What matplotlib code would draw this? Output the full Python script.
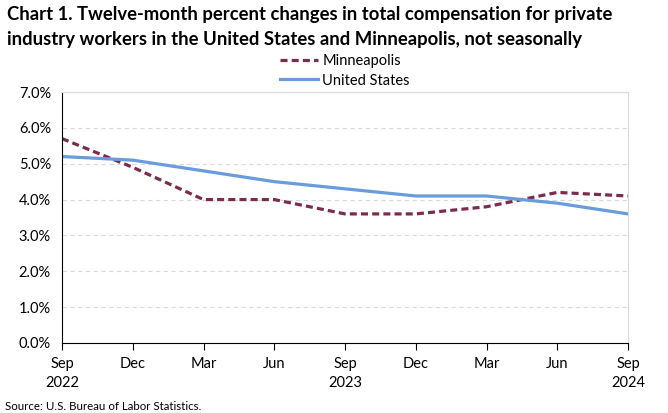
import matplotlib
matplotlib.use("Agg")
import matplotlib.pyplot as plt
from matplotlib.ticker import FuncFormatter, MultipleLocator

plt.rcParams['font.family'] = ['Lato', 'DejaVu Sans']

# Quarterly reference periods, Sep 2022 to Sep 2024
months = ['Sep\n2022', 'Dec', 'Mar', 'Jun', 'Sep\n2023', 'Dec', 'Mar', 'Jun', 'Sep\n2024']
minneapolis = [5.7, 4.9, 4.0, 4.0, 3.6, 3.6, 3.8, 4.2, 4.1]
united_states = [5.2, 5.1, 4.8, 4.5, 4.3, 4.1, 4.1, 3.9, 3.6]

fig = plt.figure(figsize=(6.68, 4.13), dpi=100)
ax = fig.add_axes([62 / 668, 1 - 343 / 413, (628 - 62) / 668, (343 - 92) / 413])

x = list(range(len(months)))
l1, = ax.plot(x, minneapolis, color='#7B2C4C', linewidth=2.3, linestyle=(0, (2.2, 1.3)),
              label='Minneapolis')
l2, = ax.plot(x, united_states, color='#6A9BDC', linewidth=2.3, label='United States')

ax.set_xlim(0, len(months) - 1)
ax.set_ylim(0, 7)
ax.yaxis.set_major_locator(MultipleLocator(1))
ax.yaxis.set_major_formatter(FuncFormatter(lambda v, p: f'{v:.1f}%'))
ax.set_xticks(x)
ax.set_xticklabels(months, linespacing=1.45)

ax.grid(axis='y', color='#D9D9D9', linestyle=(0, (4, 3)), linewidth=0.8)
ax.set_axisbelow(True)
for s in ['top', 'right']:
    ax.spines[s].set_color('#D9D9D9')
    ax.spines[s].set_linewidth(0.8)
ax.spines['left'].set_color('black')
ax.spines['bottom'].set_color('black')
ax.tick_params(axis='y', length=0, labelsize=10.5, pad=8)
ax.tick_params(axis='x', direction='out', length=5, labelsize=10.5, pad=5)

fig.text(7 / 668, 1 - 6 / 413, 'Chart 1. Twelve-month percent changes in total compensation for private\n'
         'industry workers in the United States and Minneapolis, not seasonally',
         fontsize=13.3, fontweight='bold', va='top', ha='left', linespacing=1.6)

fig.legend(handles=[l1, l2], loc='center', bbox_to_anchor=(345 / 668, 1 - 71 / 413),
           frameon=False, fontsize=10.5, handlelength=2.6, handletextpad=0.3,
           labelspacing=0.35, borderpad=0)

fig.text(5 / 668, 1 - 406 / 413, 'Source: U.S. Bureau of Labor Statistics.', fontsize=8.3,
         va='center', ha='left')

fig.savefig('out.png', dpi=100)
